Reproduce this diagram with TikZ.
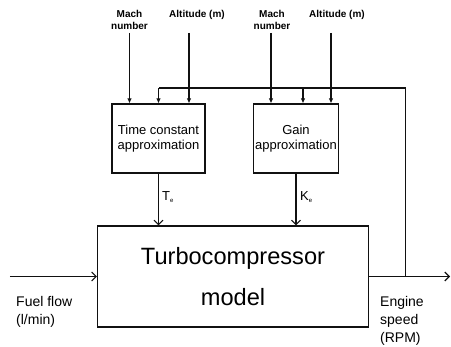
\documentclass[tikz,border=0pt]{standalone}
\usepackage{fontspec}
\setmainfont{Liberation Sans}
\usepackage{tikz}
\usetikzlibrary{arrows.meta,positioning,calc}
\definecolor{blockInk}{HTML}{111111}
\tikzset{
  block/.style={
    rectangle,
    draw=blockInk,
    line width=1.1pt,
    align=center,
    inner sep=2pt,
    font=\fontsize{13}{15.5}\selectfont
  },
  bigBlock/.style={
    rectangle,
    draw=blockInk,
    line width=1.1pt,
    align=center,
    font=\fontsize{23.6}{41}\selectfont
  },
  inputLabel/.style={
    align=center,
    inner sep=0pt,
    font=\bfseries\fontsize{10}{12}\selectfont
  },
  sideLabel/.style={
    align=left,
    inner sep=0pt,
    font=\fontsize{14}{18}\selectfont
  },
  paramArrow/.style={
    -{Latex[length=5pt,width=4.5pt]},
    line width=1.1pt,
    draw=blockInk
  },
  signalArrow/.style={
    -{Straight Barb[length=4.5pt,width=9pt]},
    line width=1.1pt,
    draw=blockInk
  },
  feedLine/.style={
    line width=1.1pt,
    draw=blockInk
  }
}

\begin{document}
\begin{tikzpicture}[x=1pt,y=-1pt]
  \useasboundingbox (0,0) rectangle (451,347);
  % blocks
  \node[block,minimum width=93pt,minimum height=69pt] (timeBlock) at (158.5,138.5) {Time constant\\approximation};
  \node[block,minimum width=84pt,minimum height=69pt] (gainBlock) at (296,138.5) {Gain\\approximation};
  \node[bigBlock,minimum width=271pt,minimum height=101pt] (turboBlock) at (233,276.5) {Turbocompressor\\model};
  % flight inputs
  \node[inputLabel,anchor=north] (machA) at (129.5,10) {Mach\\number};
  \node[inputLabel,anchor=north] (altA) at (197,10) {Altitude (m)};
  \node[inputLabel,anchor=north] (machB) at (272,10) {Mach\\number};
  \node[inputLabel,anchor=north] (altB) at (337,10) {Altitude (m)};
  \coordinate (machAfoot) at (129.5,33);
  \coordinate (altAfoot) at (189,33);
  \coordinate (machBfoot) at (271,33);
  \coordinate (altBfoot) at (331,33);
  \draw[paramArrow] (machAfoot) -- (machAfoot |- timeBlock.north);
  \draw[paramArrow] (altAfoot) -- (altAfoot |- timeBlock.north);
  \draw[paramArrow] (machBfoot) -- (machBfoot |- gainBlock.north);
  \draw[paramArrow] (altBfoot) -- (altBfoot |- gainBlock.north);
  % speed feedback
  \coordinate (speedTap) at ($(turboBlock.east)+(36,0)$);
  \coordinate (speedEnd) at ($(turboBlock.east)+(81,0)$);
  \coordinate (feedTop) at (speedTap |- 0,88);
  \coordinate (gainFeed) at (303,88);
  \draw[feedLine] (speedTap) -- (feedTop) -- (feedTop -| timeBlock.north);
  \draw[paramArrow] (feedTop -| timeBlock.north) -- (timeBlock.north);
  \draw[paramArrow] (gainFeed) -- (gainFeed |- gainBlock.north);
  % block outputs
  \draw[signalArrow] (timeBlock.south) -- (timeBlock.south |- turboBlock.north);
  \draw[signalArrow] (gainBlock.south) -- (gainBlock.south |- turboBlock.north);
  \node[anchor=west,inner sep=0pt,font=\fontsize{13}{15}\selectfont] (timeOut) at (162,197) {T\raisebox{-2pt}{\fontsize{6}{6}\selectfont e}};
  \node[anchor=west,inner sep=0pt,font=\fontsize{13}{15}\selectfont] (gainOut) at (300,197) {K\raisebox{-2pt}{\fontsize{6}{6}\selectfont e}};
  % fuel in, speed out
  \coordinate (fuelStart) at ($(turboBlock.west)+(-87,0)$);
  \draw[signalArrow] (fuelStart) -- (turboBlock.west);
  \draw[signalArrow] (turboBlock.east) -- (speedEnd);
  \node[sideLabel,anchor=north west] (fuelLabel) at (16,296) {Fuel flow\\(l/min)};
  \node[sideLabel,anchor=north west] (speedLabel) at (380,296) {Engine\\speed\\(RPM)};
\end{tikzpicture}
\end{document}
